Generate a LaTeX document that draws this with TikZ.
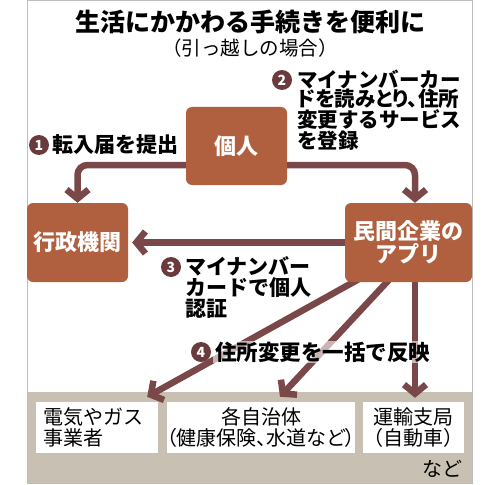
\documentclass[tikz,border=0pt]{standalone}
\usepackage{fontspec}
\setmainfont{Noto Sans CJK JP}
\newfontfamily\jpprop{Noto Sans CJK JP}[RawFeature=+palt]
\usetikzlibrary{arrows.meta}
\definecolor{boxrust}{HTML}{B0603E}
\definecolor{flowmauve}{HTML}{7A4848}
\definecolor{badgedark}{HTML}{6A3A3C}
\definecolor{bandtan}{HTML}{C7C0B3}
\definecolor{framegray}{HTML}{BDBDBD}
\pgfdeclarelayer{background}
\pgfsetlayers{background,main}
\newcommand{\fs}[1]{\fontsize{#1}{#1}\selectfont}

\begin{document}
\begin{tikzpicture}[
  x=1pt,
  y=-1pt,
  every node/.style={font=\fs{20}, black},
  organ/.style={fill=boxrust, rounded corners=6pt, text=white, align=center,
    inner sep=0pt, font=\fontsize{22}{23}\selectfont\bfseries},
  dest/.style={fill=white, align=center, inner sep=0pt, minimum height=51pt,
    font=\fontsize{20}{20.5}\selectfont},
  flow/.style={flowmauve, line width=6.5pt, rounded corners=10pt,
    -{Straight Barb[length=9pt, width=22pt]}},
  badge/.style={circle, fill=badgedark, text=white, inner sep=0pt,
    minimum size=20pt, font=\fs{14}\bfseries},
  note/.style={align=left, inner sep=0pt, font=\fontsize{21}{21}\selectfont\bfseries}
]
\useasboundingbox (0,0) rectangle (500,484);

% =====================================================================
% frame and band
% =====================================================================
\begin{pgfonlayer}{background}
  \fill[bandtan] (27,392) rectangle (473,484);
\end{pgfonlayer}
\draw[framegray, line width=1pt] (27.5,0.5) rectangle (472.5,483.5);

% =====================================================================
% title
% =====================================================================
\node[font=\fs{25}\bfseries] (title) at (250,22) {生活にかかわる手続きを便利に};
\node[font=\fs{19.5}] (subtitle) at (250,48) {（引っ越しの場合）};

% =====================================================================
% boxes
% =====================================================================
\node[organ, minimum width=101pt, minimum height=78pt] (kojin) at (236.5,146) {個人};
\node[organ, minimum width=101pt, minimum height=79pt] (gyosei) at (77.5,242.5) {行政機関};
\node[organ, minimum width=127pt, minimum height=79pt] (minkan) at (408.5,242.5)
  {民間企業の\\アプリ};

\node[dest, align=left, text width=108pt, inner xsep=7pt] (denki) at (97,427.5)
  {電気やガス\\事業者};
\node[dest, minimum width=186pt] (jichitai) at (261,427.5)
  {各自治体\\{\jpprop（健康保険、水道など）}};
\node[dest, minimum width=101pt] (unyu) at (413.5,427.5)
  {運輸支局\\（自動車）};
\node[font=\fs{20}] (nado) at (442,469) {など};

% =====================================================================
% connectors
% =====================================================================
\draw[flow] ([yshift=-19pt]kojin.west) -| (gyosei.north);
\draw[flow] ([yshift=-19pt]kojin.east) -| ([xshift=6.5pt]minkan.north);
\draw[flow, shorten >=4pt] (minkan.west) -- (gyosei.east);

\begin{pgfonlayer}{background}
  \draw[flow] ([xshift=-48pt,yshift=4pt]minkan.south) -- ([xshift=-11pt,yshift=5pt]denki.north east);
  \draw[flow] ([xshift=-18pt,yshift=4pt]minkan.south) -- ([xshift=19pt,yshift=5pt]jichitai.north);
  \draw[flow] ([xshift=6.5pt,yshift=4pt]minkan.south) -- ([xshift=1.5pt,yshift=4pt]unyu.north);
\end{pgfonlayer}

% =====================================================================
% step labels
% =====================================================================
\node[badge] (n1) at (39,145) {1};
\node[note, anchor=west] (s1) at (52,145) {転入届を提出};

\node[badge] (n2) at (282,80) {2};
\node[note, anchor=north west, font=\fontsize{20.5}{19.5}\selectfont\bfseries] (s2) at (297,69.5)
  {マイナンバーカー\\{\jpprop ドを読みとり、住所}\\変更するサービス\\を登録};

\node[badge] (n3) at (171,267) {3};
\node[note, anchor=north west] (s3) at (185,256) {マイナンバー\\カードで個人\\認証};

\node[note, anchor=west, fill=white, fill opacity=0.6, text opacity=1,
  font=\fs{21.5}\bfseries, inner xsep=2pt, inner ysep=1pt] (s4) at (213,352)
  {住所変更を一括で反映};
\node[badge] (n4) at (201,352) {4};

\end{tikzpicture}
\end{document}
